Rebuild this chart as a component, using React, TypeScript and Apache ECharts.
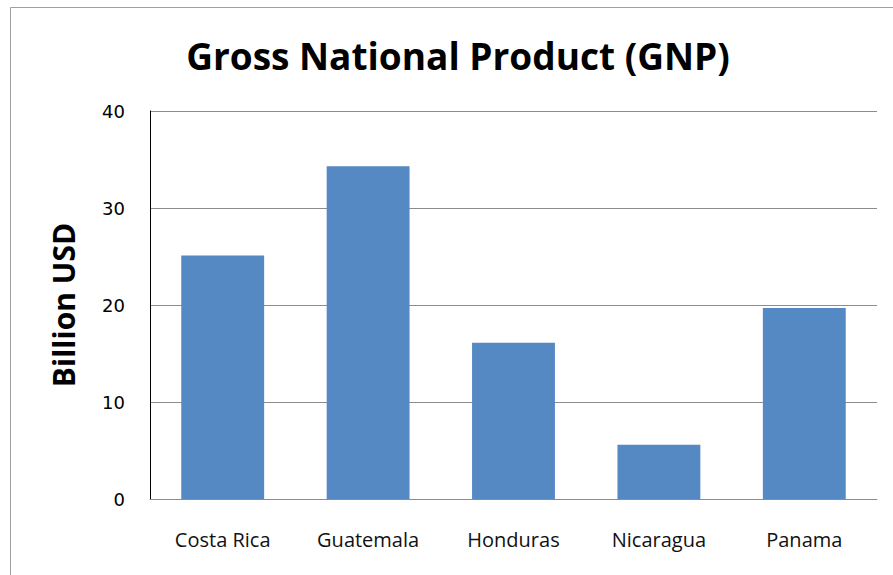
import React, { useEffect, useRef } from "react";
import * as echarts from "echarts";

const categories = ["Costa Rica", "Guatemala", "Honduras", "Nicaragua", "Panama"];
const gnpValues = [25.1, 34.3, 16.1, 5.6, 19.7];
const yTicks = { min: 0, max: 40, interval: 10 };
const titleText = "Gross National Product (GNP)";
const yAxisName = "Billion USD";

export default function App() {
  const ref = useRef<HTMLDivElement>(null);
  useEffect(() => {
    if (!ref.current) return;
    const chart = echarts.init(ref.current, null, { renderer: "svg" });
    chart.setOption({
      animation: false,
      backgroundColor: "#ffffff",
      title: {
        text: titleText,
        left: 453,
        top: 32,
        textAlign: "center",
        textStyle: {
          fontFamily: "Open Sans",
          fontWeight: "bold",
          fontSize: 37,
          color: "#000000",
        },
      },
      graphic: [
        {
          type: "rect",
          shape: { x: 10.5, y: 7.5, width: 1000, height: 1000 },
          style: { fill: "none", stroke: "#a0a0a0", lineWidth: 1 },
          silent: true,
        },
      ],
      grid: { left: 150, right: 16, top: 111, bottom: 76 },
      xAxis: {
        type: "category",
        data: categories,
        axisLine: { show: true, lineStyle: { color: "#8c8c8c", width: 1 } },
        axisTick: { show: false },
        axisLabel: {
          margin: 30,
          fontFamily: "Open Sans",
          fontSize: 20,
          color: "#111111",
        },
      },
      yAxis: {
        type: "value",
        min: yTicks.min,
        max: yTicks.max,
        interval: yTicks.interval,
        name: yAxisName,
        nameLocation: "middle",
        nameGap: 72,
        nameTextStyle: {
          fontFamily: "Open Sans",
          fontWeight: "bold",
          fontSize: 30,
          color: "#000000",
        },
        axisLine: { show: true, lineStyle: { color: "#000000", width: 1 } },
        axisTick: { show: false },
        splitLine: { show: true, lineStyle: { color: "#8c8c8c", width: 1 } },
        axisLabel: {
          margin: 25,
          fontFamily: "DejaVu Sans",
          fontSize: 18,
          color: "#000000",
        },
      },
      series: [
        {
          type: "bar",
          data: gnpValues,
          barCategoryGap: "43%",
          itemStyle: { color: "#5589c4" },
        },
      ],
    });
    return () => chart.dispose();
  }, []);
  return (
    <div
      ref={ref}
      style={{ position: "fixed", left: 0, top: 0, width: 893, height: 575 }}
    />
  );
}
